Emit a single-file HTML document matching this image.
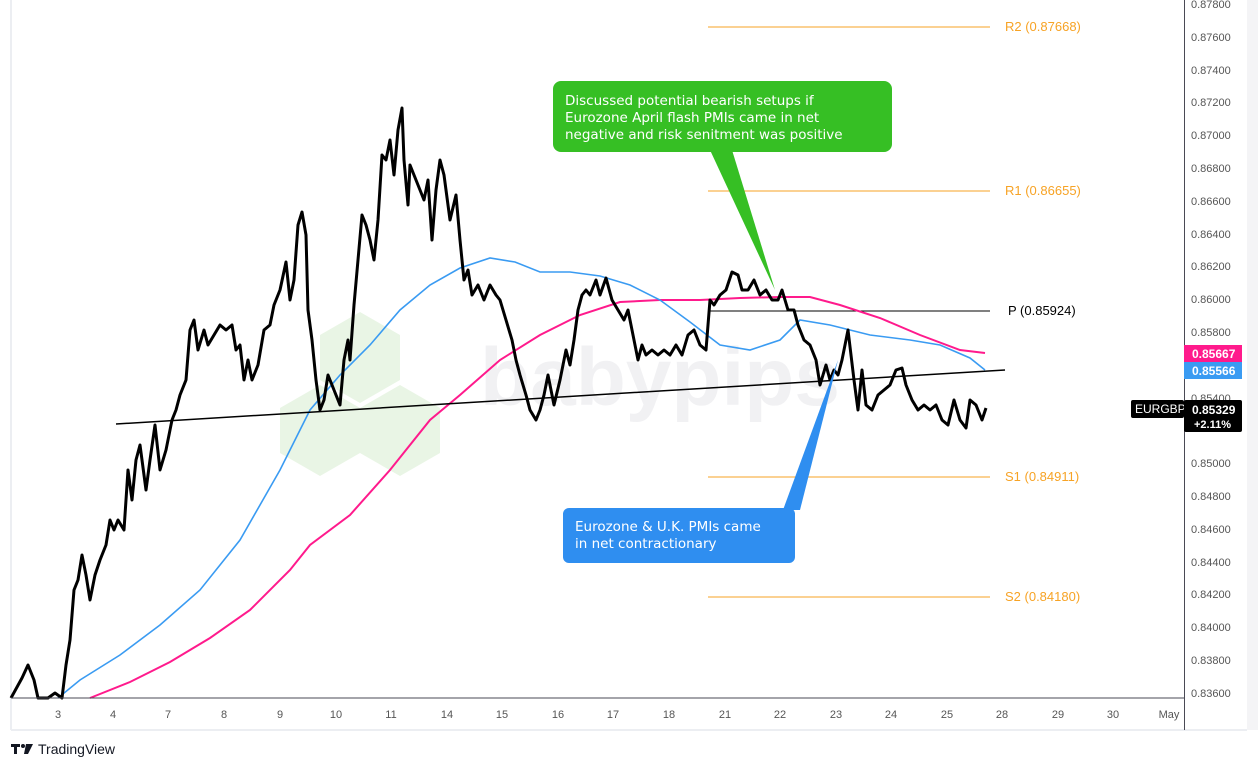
<!DOCTYPE html>
<html><head><meta charset="utf-8"><style>
html,body{margin:0;padding:0;background:#fff;}
svg{display:block;font-family:"Liberation Sans",sans-serif;}
</style></head><body>
<svg width="1258" height="769" viewBox="0 0 1258 769" xmlns="http://www.w3.org/2000/svg">
<rect width="1258" height="769" fill="#fff"/>
<rect x="1247" y="0" width="11" height="769" fill="#f4f4f6"/>
<rect x="0" y="730" width="1258" height="39" fill="#fff"/>
<line x1="11" y1="730" x2="1247" y2="730" stroke="#eceef2" stroke-width="2"/>
<line x1="11" y1="0" x2="11" y2="730" stroke="#eceef2" stroke-width="2"/>
<!-- watermark -->
<g fill="#e9f5e5">
<polygon points="360,312 400,335 400,380 360,403 320,380 320,335"/>
<polygon points="320,385 360,408 360,453 320,476 280,453 280,408"/>
<polygon points="400,385 440,408 440,453 400,476 360,453 360,408"/>
</g>
<text x="660" y="405" font-size="82" font-weight="bold" fill="#f1f1f3" text-anchor="middle">babypips</text>
<!-- pivots -->
<g stroke="#f7a325" stroke-width="1">
<line x1="708" y1="27" x2="990" y2="27"/>
<line x1="708" y1="191" x2="990" y2="191"/>
<line x1="708" y1="477" x2="990" y2="477"/>
<line x1="708" y1="597" x2="990" y2="597"/>
</g>
<line x1="708" y1="311" x2="990" y2="311" stroke="#000" stroke-width="1"/>
<g font-size="13" fill="#f7a325">
<text x="1005" y="31">R2 (0.87668)</text>
<text x="1005" y="195">R1 (0.86655)</text>
<text x="1005" y="481">S1 (0.84911)</text>
<text x="1005" y="601">S2 (0.84180)</text>
</g>
<text x="1008" y="315" font-size="13" fill="#000">P (0.85924)</text>
<!-- MAs -->
<polyline fill="none" stroke="#ff1a8c" stroke-width="2" points="90,698 130,682 170,662 210,638 250,610 290,570 310,545 350,515 390,470 430,420 460,395 500,360 540,335 580,315 620,302 660,300 700,300 740,298 780,297 810,297 840,305 880,318 920,335 960,350 985,353"/>
<polyline fill="none" stroke="#3a9bf2" stroke-width="1.6" points="58,698 80,680 120,655 160,625 200,590 240,540 280,470 310,410 340,375 370,345 400,310 430,285 460,268 490,258 515,262 540,272 570,272 600,276 630,285 660,300 690,322 720,345 750,350 780,340 800,320 830,325 870,335 910,340 940,345 970,358 985,370"/>
<line x1="116" y1="424" x2="1005" y2="370" stroke="#000" stroke-width="1.5"/>
<polyline fill="none" stroke="#000" stroke-width="3" stroke-linejoin="round" points="11,698 22,678 28,665 34,680 38,698 48,698 55,693 62,698 66,665 70,640 74,590 78,580 82,555 86,575 90,600 95,575 100,560 106,545 110,520 114,530 118,520 124,530 128,470 132,500 136,460 140,445 146,490 150,460 155,425 160,470 166,450 172,420 176,410 180,395 186,380 190,330 194,320 198,350 204,330 208,345 214,335 220,325 226,330 232,325 236,350 240,345 244,380 248,360 252,380 258,365 264,330 270,325 274,305 280,290 286,262 290,300 294,280 298,225 302,212 306,235 308,310 312,340 316,380 320,410 324,400 328,375 334,390 340,405 344,360 348,340 350,360 354,305 358,260 362,215 366,225 370,240 374,260 378,220 382,155 386,160 390,140 394,175 398,130 402,108 404,160 408,205 410,165 414,175 418,185 424,200 428,180 432,240 436,190 440,160 444,175 450,220 456,195 460,240 464,280 468,270 472,295 478,285 484,300 490,285 496,295 500,300 506,320 512,340 516,360 520,375 526,395 530,410 536,420 540,410 544,395 548,375 554,405 560,380 566,350 570,365 574,340 578,310 582,295 586,290 590,295 596,280 600,295 606,278 612,300 618,310 624,320 628,310 634,340 638,360 642,345 646,355 652,350 658,355 664,350 670,355 676,345 682,355 688,335 694,330 700,345 706,350 710,300 714,305 720,295 726,290 732,272 738,275 742,290 748,290 754,280 760,295 766,290 772,300 778,300 782,290 788,310 794,310 798,325 804,340 810,345 816,360 820,385 826,365 830,380 834,370 838,375 842,360 848,330 854,380 858,410 862,370 866,405 872,410 878,395 884,390 890,385 896,370 902,368 906,385 912,400 918,410 924,405 930,410 936,405 942,420 948,425 954,400 960,420 966,428 970,400 976,405 982,420 986,408"/>
<!-- callouts -->
<polygon points="710,150 732,150 775,290" fill="#36bf24"/>
<rect x="553" y="81" width="339" height="71" rx="8" fill="#36bf24"/>
<g font-size="13.5" fill="#fff" font-family="DejaVu Sans, sans-serif">
<text x="565" y="105">Discussed potential bearish setups if</text>
<text x="565" y="122">Eurozone April flash PMIs came in net</text>
<text x="565" y="139">negative and risk senitment was positive</text>
</g>
<polygon points="783,510 800,510 838,360" fill="#2f8ef0"/>
<rect x="563" y="508" width="232" height="55" rx="6" fill="#2f8ef0"/>
<g font-size="13.5" fill="#fff" font-family="DejaVu Sans, sans-serif">
<text x="575" y="531">Eurozone &amp; U.K. PMIs came</text>
<text x="575" y="548">in net contractionary</text>
</g>
<!-- axes -->
<line x1="11" y1="698" x2="1185" y2="698" stroke="#4a4a55" stroke-width="1"/>
<line x1="1184.5" y1="0" x2="1184.5" y2="730" stroke="#4a4a55" stroke-width="1"/>
<g font-size="11" fill="#555" text-anchor="middle">
<text x="58" y="718">3</text><text x="113" y="718">4</text><text x="168" y="718">7</text><text x="224" y="718">8</text><text x="280" y="718">9</text><text x="336" y="718">10</text><text x="391" y="718">11</text><text x="447" y="718">14</text><text x="502" y="718">15</text><text x="558" y="718">16</text><text x="613" y="718">17</text><text x="669" y="718">18</text><text x="725" y="718">21</text><text x="780" y="718">22</text><text x="836" y="718">23</text><text x="891" y="718">24</text><text x="947" y="718">25</text><text x="1002" y="718">28</text><text x="1058" y="718">29</text><text x="1113" y="718">30</text><text x="1169" y="718">May</text>
</g>
<g font-size="11" fill="#555">
<text x="1191" y="8">0.87800</text><text x="1191" y="41">0.87600</text><text x="1191" y="74">0.87400</text><text x="1191" y="106">0.87200</text><text x="1191" y="139">0.87000</text><text x="1191" y="172">0.86800</text><text x="1191" y="205">0.86600</text><text x="1191" y="238">0.86400</text><text x="1191" y="270">0.86200</text><text x="1191" y="303">0.86000</text><text x="1191" y="336">0.85800</text><text x="1191" y="402">0.85400</text><text x="1191" y="467">0.85000</text><text x="1191" y="500">0.84800</text><text x="1191" y="533">0.84600</text><text x="1191" y="566">0.84400</text><text x="1191" y="598">0.84200</text><text x="1191" y="631">0.84000</text><text x="1191" y="664">0.83800</text><text x="1191" y="697">0.83600</text>
</g>
<rect x="1184" y="345" width="58" height="17" fill="#ff1a8c"/>
<text x="1192" y="358" font-size="12" font-weight="bold" fill="#fff">0.85667</text>
<rect x="1184" y="362" width="58" height="17" fill="#3a9bf2"/>
<text x="1192" y="375" font-size="12" font-weight="bold" fill="#fff">0.85566</text>
<rect x="1131" y="400" width="53" height="18" rx="2" fill="#000"/>
<text x="1135" y="413" font-size="12" fill="#fff">EURGBP</text>
<rect x="1184" y="400" width="58" height="32" rx="2" fill="#000"/>
<text x="1192" y="414" font-size="12" font-weight="bold" fill="#fff">0.85329</text>
<text x="1194" y="428" font-size="11" font-weight="bold" fill="#fff">+2.11%</text>
<!-- logo -->
<g fill="#131722">
<rect x="11" y="744" width="9" height="3"/><rect x="14" y="744" width="3" height="10"/>
<circle cx="23" cy="746" r="2"/><polygon points="26,744 33,744 28,754 24,754"/>
</g>
<text x="38" y="754" font-size="14" fill="#131722">TradingView</text>
</svg>
</body></html>
